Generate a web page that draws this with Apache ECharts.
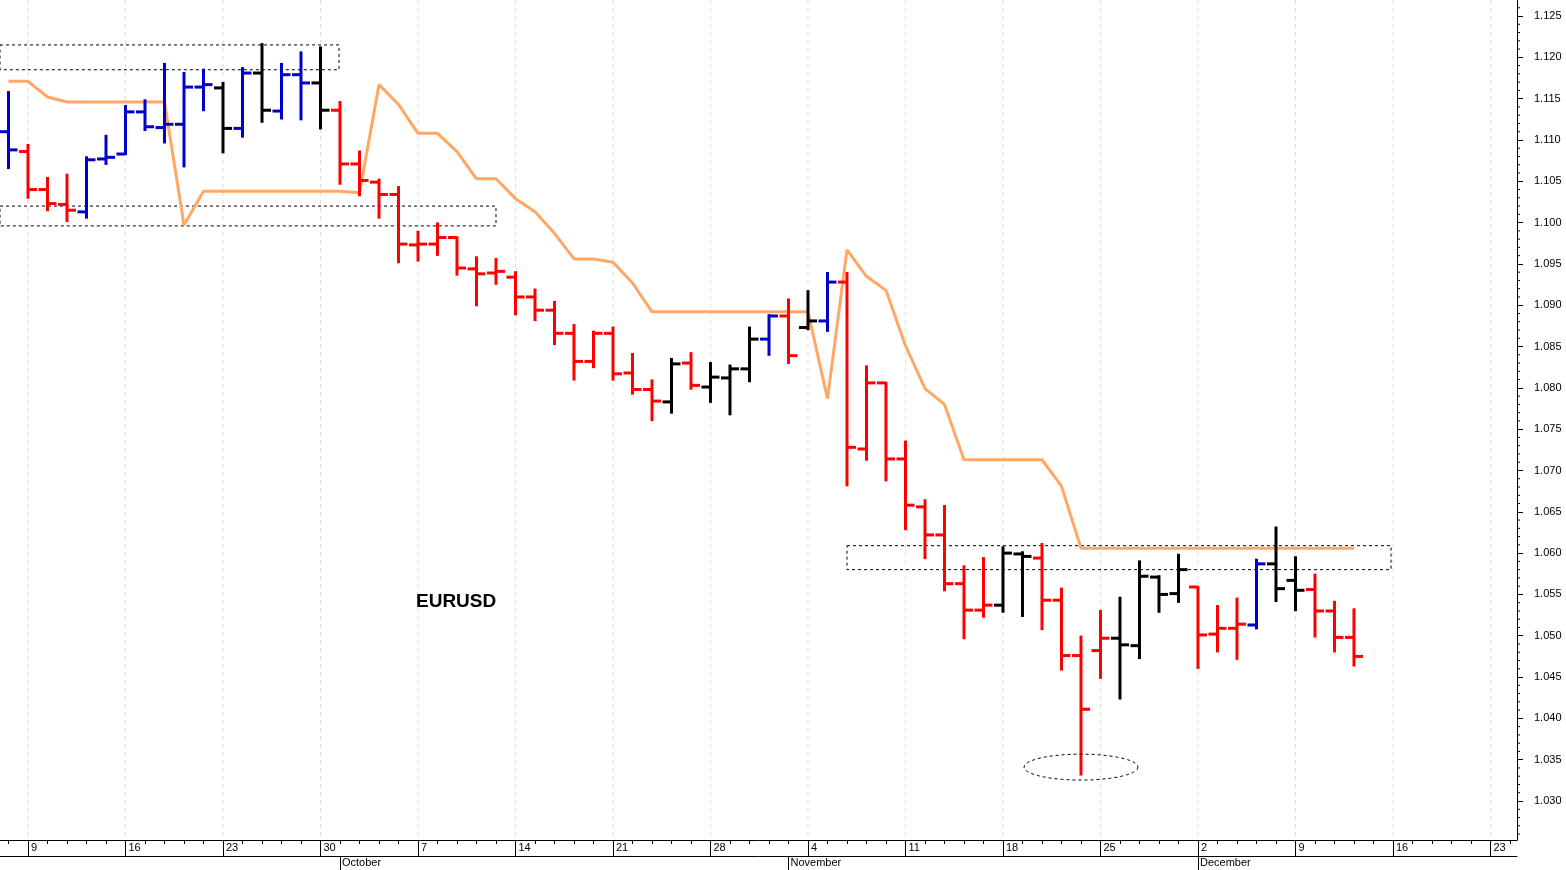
<!DOCTYPE html>
<html><head><meta charset="utf-8">
<script src="https://cdn.jsdelivr.net/npm/echarts@6/dist/echarts.min.js"></script>
<style>html,body{margin:0;padding:0;background:#fff}#c{width:1566px;height:870px}</style>
</head><body><div id="c"></div>
<script>
// trading-day index 0 = Fri 6 Sep 2024
const opens  = [1.1110,1.1086,1.1040,1.1022,1.1013,1.1077,1.1083,1.1134,1.1115,1.1119,1.1164,1.1163,1.1114,1.1181,1.1135,1.1179,1.1169,1.1136,1.1071,1.1049,1.1034,1.0973,1.0974,1.0982,1.0944,1.0939,1.0934,1.0910,1.0894,1.0866,1.0832,1.0866,1.0818,1.0798,1.0783,1.0830,1.0801,1.0812,1.0823,1.0859,1.0887,1.0873,1.0881,1.0928,1.0726,1.0806,1.0714,1.0656,1.0622,1.0563,1.0531,1.0537,1.0599,1.0594,1.0543,1.0476,1.0482,1.0497,1.0488,1.0571,1.0551,1.0559,1.0502,1.0509,1.0513,1.0587,1.0567,1.0556,1.0530,1.0498];
const highs  = [1.1158,1.1094,1.1054,1.1058,1.1079,1.1105,1.1141,1.1148,1.1192,1.1181,1.1185,1.1169,1.1187,1.1216,1.1192,1.1206,1.1212,1.1146,1.1086,1.1052,1.1043,1.0989,1.0999,1.0982,1.0958,1.0956,1.0940,1.0919,1.0904,1.0876,1.0868,1.0873,1.0841,1.0809,1.0835,1.0842,1.0830,1.0827,1.0873,1.0888,1.0907,1.0917,1.0939,1.0939,1.0826,1.0806,1.0735,1.0664,1.0657,1.0584,1.0594,1.0607,1.0601,1.0611,1.0557,1.0499,1.0530,1.0546,1.0590,1.0572,1.0598,1.0559,1.0536,1.0545,1.0592,1.0631,1.0595,1.0574,1.0541,1.0532];
const lows   = [1.1066,1.1030,1.1015,1.1002,1.1006,1.1071,1.1083,1.1112,1.1097,1.1068,1.1136,1.1085,1.1104,1.1122,1.1126,1.1125,1.1114,1.1047,1.1033,1.1006,1.0952,1.0954,1.0961,1.0937,1.0900,1.0926,1.0889,1.0882,1.0853,1.0810,1.0825,1.0810,1.0793,1.0761,1.0770,1.0799,1.0783,1.0768,1.0808,1.0840,1.0830,1.0871,1.0869,1.0682,1.0713,1.0688,1.0629,1.0594,1.0555,1.0497,1.0523,1.0529,1.0524,1.0508,1.0459,1.0332,1.0449,1.0424,1.0473,1.0529,1.0541,1.0461,1.0481,1.0472,1.0509,1.0542,1.0531,1.0499,1.0481,1.0464];
const closes = [1.1088,1.1040,1.1023,1.1015,1.1076,1.1079,1.1134,1.1116,1.1119,1.1164,1.1167,1.1114,1.1181,1.1136,1.1179,1.1169,1.1136,1.1071,1.1051,1.1034,1.0974,1.0974,1.0982,1.0945,1.0938,1.0941,1.0910,1.0894,1.0866,1.0832,1.0866,1.0817,1.0798,1.0784,1.0829,1.0803,1.0813,1.0823,1.0859,1.0887,1.0839,1.0881,1.0928,1.0728,1.0806,1.0714,1.0658,1.0622,1.0563,1.0531,1.0537,1.0600,1.0596,1.0543,1.0476,1.0411,1.0497,1.0489,1.0572,1.0550,1.0580,1.0501,1.0509,1.0514,1.0587,1.0557,1.0555,1.0530,1.0498,1.0475];
// b = blue, r = red, k = black
const barState = "brrrbbbbbbbkbkbbkrrrrrrrrrrrrrrrrrkrkkkbrkbrrrrrrrrkkrrrrkkkkrrrbkkrrr";
const signalLine = [1.1171,1.1171,1.1152,1.1146,1.1146,1.1146,1.1146,1.1146,1.1146,1.0997,1.1038,1.1038,1.1038,1.1038,1.1038,1.1038,1.1038,1.1038,1.1036,1.1167,1.1143,1.1108,1.1108,1.1086,1.1053,1.1053,1.1029,1.1013,1.0987,1.0956,1.0956,1.0952,1.0927,1.0892,1.0892,1.0892,1.0892,1.0892,1.0892,1.0892,1.0892,1.0892,1.0787,1.0967,1.0935,1.0918,1.0851,1.0799,1.0780,1.0713,1.0713,1.0713,1.0713,1.0713,1.0681,1.0606,1.0606,1.0606,1.0606,1.0606,1.0606,1.0606,1.0606,1.0606,1.0606,1.0606,1.0606,1.0606,1.0606,1.0606];
const mondayIdx = [1,6,11,16,21,26,31,36,41,46,51,56,61,66,71,76];
const mondayLabels = ["9","16","23","30","7","14","21","28","4","11","18","25","2","9","16","23"];
const monthIdx = [17,40,61];
const monthLabels = ["October","November","December"];
const yTicks = [1.030,1.035,1.040,1.045,1.050,1.055,1.060,1.065,1.070,1.075,1.080,1.085,1.090,1.095,1.100,1.105,1.110,1.115,1.120,1.125];
const boxes = [[-2,1.1215,16.95,1.1185],[-2,1.1020,25.0,1.0996],[43.0,1.0609,70.9,1.0580]];
const ellipse = [55,1.0341,2.92,0.00157];

const colorMap = {b:'#0000cc', r:'#ff0000', k:'#000000'};
const XMIN=-0.436, XMAX=77.36, YMIN=1.02528, YMAX=1.12694;
const allDays=[]; for(let i=0;i<=77;i++) allDays.push(i);
const minorY=[]; for(let v=1026;v<=1126;v++) if(v%5) minorY.push([v/1000]);
const ohlc = opens.map((o,i)=>[i,o,highs[i],lows[i],closes[i],barState[i]]);
const font = 'Liberation Sans, Arial, sans-serif';

const chart = echarts.init(document.getElementById('c'));
const xBase = {type:'value',min:XMIN,max:XMAX,splitLine:{show:false},gridIndex:0};
const g = {left:0,right:49,top:0,bottom:30};
chart.setOption({
  animation:false,
  grid:[Object.assign({},g),Object.assign({},g)],
  xAxis:[
    Object.assign({},xBase,{position:'bottom',axisLine:{onZero:false,lineStyle:{color:'#000'}},
      axisTick:{customValues:mondayIdx,length:16,lineStyle:{color:'#000'}},
      axisLabel:{customValues:mondayIdx,formatter:v=>mondayLabels[mondayIdx.indexOf(Math.round(v))]||'',
        align:'left',margin:2,padding:[0,0,0,3],fontSize:11,color:'#000',fontFamily:font}}),
    Object.assign({},xBase,{position:'bottom',offset:16,axisLine:{onZero:false,lineStyle:{color:'#000'}},
      axisTick:{customValues:monthIdx,length:14,lineStyle:{color:'#000'}},
      axisLabel:{customValues:monthIdx,formatter:v=>monthLabels[monthIdx.indexOf(Math.round(v))]||'',
        align:'left',margin:1,padding:[0,0,0,2],fontSize:11,color:'#000',fontFamily:font}}),
    Object.assign({},xBase,{gridIndex:1,position:'bottom',axisLine:{show:false,onZero:false},
      axisTick:{customValues:allDays,length:4,lineStyle:{color:'#000'}},axisLabel:{show:false}})
  ],
  yAxis:[
    {type:'value',position:'right',min:YMIN,max:YMAX,splitLine:{show:false},
      axisLine:{show:true,onZero:false,lineStyle:{color:'#000'}},
      axisTick:{customValues:yTicks,length:6,lineStyle:{color:'#000'}},
      axisLabel:{customValues:yTicks,formatter:v=>v.toFixed(3),margin:17,fontSize:11,color:'#000',fontFamily:font}},
    {type:'value',gridIndex:1,show:false,min:YMIN,max:YMAX,axisLine:{onZero:false}}
  ],
  graphic:[{type:'text',left:416,top:592,z:10,style:{text:'EURUSD',font:'bold 19px '+font,fill:'#000'}}],
  series:[
    {type:'custom',z:0,silent:true,data:mondayIdx.map(i=>[i]),
      renderItem:(params,api)=>{
        const top=api.coord([api.value(0),YMAX]),bot=api.coord([api.value(0),YMIN]);
        return {type:'line',shape:{x1:top[0],y1:top[1],x2:bot[0],y2:bot[1]},
          style:{stroke:'#dcdcdc',lineWidth:1,lineDash:[4,4]}};
      }},
    {type:'custom',z:6,silent:true,clip:false,data:minorY,encode:{y:0},
      renderItem:(params,api)=>{
        const p=api.coord([XMAX,api.value(0)]);
        return {type:'line',shape:{x1:p[0],y1:p[1],x2:p[0]+3,y2:p[1]},style:{stroke:'#000',lineWidth:1}};
      }},
    {type:'line',data:[],silent:true,
      markArea:{silent:true,itemStyle:{color:'rgba(0,0,0,0)',borderColor:'#000',borderWidth:1,borderType:[3,3]},
        data:boxes.map(b=>[{coord:[b[0],b[1]]},{coord:[b[2],b[3]]}])}},
    {type:'line',data:signalLine.map((v,i)=>[i,v]),symbol:'none',z:3,
      lineStyle:{color:'#ffa866',width:3}},
    {type:'custom',z:4,data:ohlc,encode:{x:0,y:[1,2,3,4]},
      renderItem:(params,api)=>{
        const x=api.value(0);
        const pO=api.coord([x,api.value(1)]),pH=api.coord([x,api.value(2)]),
              pL=api.coord([x,api.value(3)]),pC=api.coord([x,api.value(4)]);
        const col=colorMap[ohlc[params.dataIndex][5]];
        const st={stroke:col,lineWidth:3};
        const w=9;
        return {type:'group',children:[
          {type:'line',shape:{x1:pH[0],y1:pH[1]-1,x2:pL[0],y2:pL[1]+1},style:st},
          {type:'line',shape:{x1:pO[0]-w,y1:pO[1],x2:pO[0],y2:pO[1]},style:st},
          {type:'line',shape:{x1:pC[0],y1:pC[1],x2:pC[0]+w,y2:pC[1]},style:st}
        ]};
      }},
    {type:'custom',z:5,data:[ellipse],silent:true,
      renderItem:(params,api)=>{
        const c=api.coord([api.value(0),api.value(1)]);
        const s=api.size([api.value(2),api.value(3)]);
        const pts=[];
        for(let k=0;k<=72;k++){const a=k/72*Math.PI*2;pts.push([c[0]+s[0]*Math.cos(a),c[1]+s[1]*Math.sin(a)]);}
        return {type:'polyline',shape:{points:pts},style:{stroke:'#000',lineWidth:1,lineDash:[3,3],fill:null}};
      }}
  ]
});
</script></body></html>
